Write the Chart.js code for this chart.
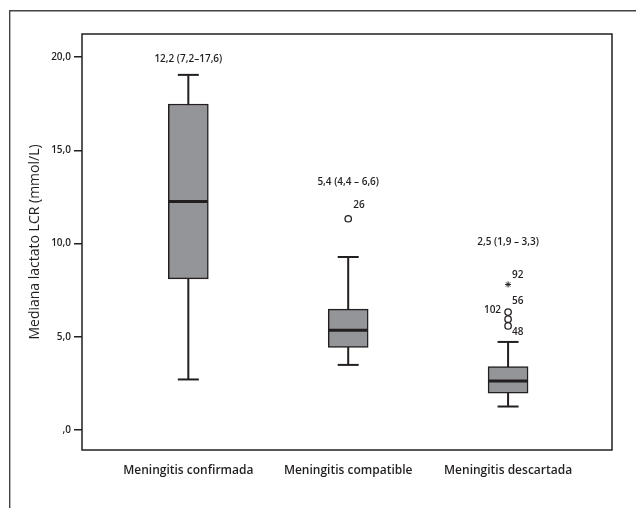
<!DOCTYPE html>
<html>
<head>
<meta charset="utf-8">
<script src="https://cdn.jsdelivr.net/npm/chart.js@4.4.1/dist/chart.umd.min.js"></script>
<style>
  html, body { margin: 0; padding: 0; background: #fff; }
  canvas { display: block; }
</style>
</head>
<body>
<canvas id="chart" width="636" height="508"></canvas>
<script>
const categories = ['Meningitis confirmada', 'Meningitis compatible', 'Meningitis descartada'];
const whiskerLow = [2.72, 3.50, 1.27];
const q1 = [8.11, 4.43, 1.98];
const medians = [12.26, 5.35, 2.64];
const q3 = [17.48, 6.49, 3.41];
const whiskerHigh = [19.04, 9.28, 4.73];

// text printed above each box: median (IQR)
const summaryLabels = ['12,2 (7,2–17,6)', '5,4 (4,4 – 6,6)', '2,5 (1,9 – 3,3)'];
const summaryAt = [19.9, 13.3, 10.1];

// outliers (circles) and extremes (asterisk) with case numbers
const outlierGroup = [1, 2, 2, 2];
const outlierValues = [11.33, 6.33, 5.95, 5.59];
const outlierIds = ['26', '56', '102', '48'];
const extremeGroup = [2];
const extremeValues = [7.81];
const extremeIds = ['92'];

const yTicks = [0, 5, 10, 15, 20];

const ink = '#231f20';
const boxGrey = '#939598';

Chart.defaults.font.family = '"Open Sans", sans-serif';
Chart.defaults.color = ink;

const pts = (groups, vals) => vals.map((v, i) => ({ x: groups[i], y: v }));
const idx = categories.map((c, i) => i);

// where the case numbers sit next to their marker (px)
const idOffsets = {
    '26': [5, -14, 'left'],
    '56': [4, -11, 'left'],
    '102': [-7, -9, 'right'],
    '48': [4, 6, 'left'],
    '92': [4, -9.5, 'left']
};

const decor = {
    id: 'decor',
    beforeDraw(chart) {
        const { ctx, width, height } = chart;
        ctx.save();
        ctx.strokeStyle = '#444';
        ctx.lineWidth = 1.4;
        ctx.beginPath();
        ctx.moveTo(9.7, height);
        ctx.lineTo(9.7, 10.7);
        ctx.lineTo(width, 10.7);
        ctx.stroke();
        ctx.restore();
    },
    afterDraw(chart) {
        const { ctx, chartArea: a, scales: { x, y } } = chart;
        ctx.save();
        ctx.strokeStyle = ink;
        ctx.lineWidth = 1.5;
        ctx.strokeRect(a.left, a.top, a.right - a.left, a.bottom - a.top);

        ctx.fillStyle = ink;
        ctx.font = '600 10px "Open Sans"';
        ctx.textBaseline = 'middle';
        ctx.textAlign = 'center';
        summaryLabels.forEach((t, i) => {
            ctx.fillText(t, x.getPixelForValue(i), y.getPixelForValue(summaryAt[i]));
        });

        const writeId = (id, g, v) => {
            const [dx, dy, align] = idOffsets[id];
            ctx.textAlign = align;
            ctx.fillText(id, x.getPixelForValue(g) + dx, y.getPixelForValue(v) + dy);
        };
        outlierIds.forEach((id, i) => writeId(id, outlierGroup[i], outlierValues[i]));
        extremeIds.forEach((id, i) => writeId(id, extremeGroup[i], extremeValues[i]));
        ctx.restore();
    }
};

new Chart(document.getElementById('chart'), {
    type: 'bar',
    data: {
        datasets: [
            {
                type: 'scatter',
                label: 'Mediana',
                data: pts(idx, medians),
                pointStyle: 'line',
                pointRadius: 19.5,
                pointHoverRadius: 19.5,
                pointBorderWidth: 3,
                pointBorderColor: ink,
                order: 0
            },
            {
                type: 'scatter',
                label: 'Extremos',
                data: pts(extremeGroup, extremeValues),
                pointStyle: 'star',
                pointRadius: 3,
                pointBorderWidth: 1,
                pointBorderColor: ink,
                order: 0
            },
            {
                type: 'scatter',
                label: 'Atípicos',
                data: pts(outlierGroup, outlierValues),
                pointStyle: 'circle',
                pointRadius: 3.2,
                pointBorderWidth: 1.3,
                pointBorderColor: ink,
                pointBackgroundColor: '#fff',
                order: 0
            },
            {
                type: 'scatter',
                label: 'Bigotes',
                data: [...pts(idx, whiskerHigh), ...pts(idx, whiskerLow)],
                pointStyle: 'line',
                pointRadius: 10.5,
                pointBorderWidth: 2,
                pointBorderColor: ink,
                order: 1
            },
            {
                type: 'bar',
                label: 'RIC',
                data: q1.map((v, i) => ({ x: i, y: [v, q3[i]] })),
                backgroundColor: boxGrey,
                borderColor: ink,
                borderWidth: 1.5,
                borderSkipped: false,
                barThickness: 40,
                grouped: false,
                order: 2
            },
            {
                type: 'bar',
                label: 'Rango',
                data: whiskerLow.map((v, i) => ({ x: i, y: [v, whiskerHigh[i]] })),
                backgroundColor: ink,
                barThickness: 2,
                inflateAmount: 0,
                grouped: false,
                order: 3
            }
        ]
    },
    options: {
        responsive: false,
        animation: false,
        layout: { padding: { left: 0, top: 34, right: 24, bottom: 0 } },
        plugins: {
            legend: { display: false },
            tooltip: { enabled: false }
        },
        scales: {
            x: {
                type: 'linear',
                min: -0.665,
                max: 2.65,
                offset: false,
                grid: { display: false, drawTicks: false },
                border: { display: false },
                afterBuildTicks: s => { s.ticks = idx.map(v => ({ value: v })); },
                afterFit: s => { s.height = 58; },
                ticks: {
                    padding: 13,
                    maxRotation: 0,
                    autoSkip: false,
                    font: { size: 12, weight: '600' },
                    callback: v => categories[v]
                }
            },
            y: {
                type: 'linear',
                min: -1.06,
                max: 21.23,
                grid: {
                    drawOnChartArea: false,
                    drawTicks: true,
                    tickLength: 8,
                    color: ink,
                    lineWidth: 1.5
                },
                border: { display: false },
                afterBuildTicks: s => { s.ticks = yTicks.map(v => ({ value: v })); },
                afterFit: s => { s.width = 82; },
                ticks: {
                    padding: 3,
                    font: { size: 10, weight: '600' },
                    callback: v => v === 0 ? ',0' : v.toFixed(1).replace('.', ',')
                },
                title: {
                    display: true,
                    text: 'Mediana lactato LCR (mmol/L)',
                    font: { size: 14, weight: '500' },
                    padding: { top: 26.5, bottom: 0 }
                }
            }
        }
    },
    plugins: [decor]
});
</script>
</body>
</html>
